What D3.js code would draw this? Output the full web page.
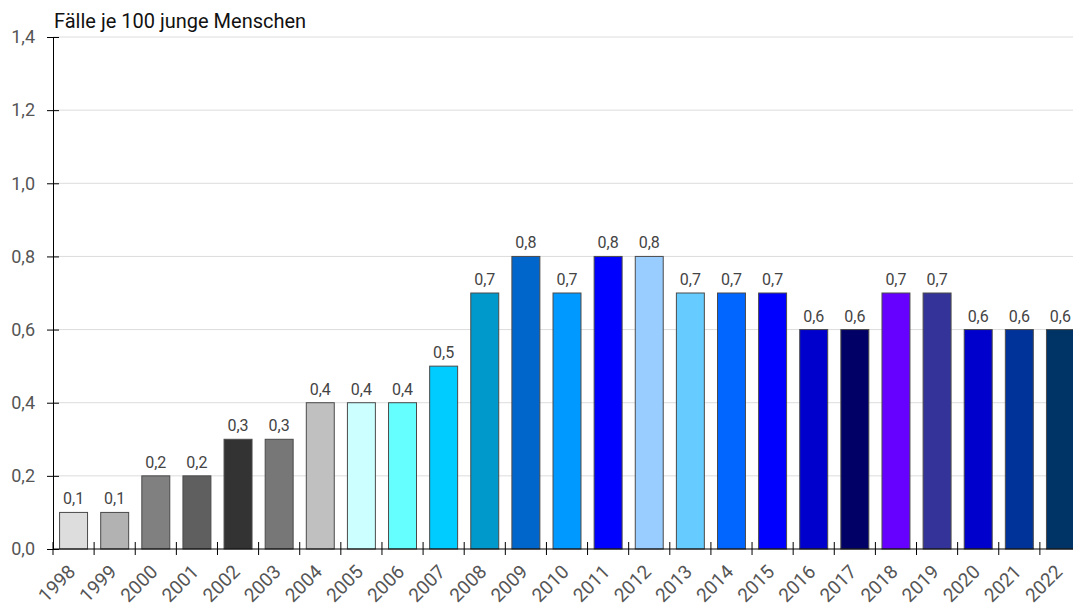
<!DOCTYPE html>
<html>
<head>
<meta charset="utf-8">
<script src="https://cdn.jsdelivr.net/npm/d3@7"></script>
<style>
  html, body { margin: 0; padding: 0; background: #fff; }
  svg { display: block; font-family: Roboto, "Noto Sans", sans-serif; }
</style>
</head>
<body>
<svg id="chart" width="1073" height="607"></svg>
<script>
// Jahre, Werte (Fälle je 100 junge Menschen) und Balkenfarben
const years = ["1998","1999","2000","2001","2002","2003","2004","2005","2006","2007","2008","2009","2010","2011","2012","2013","2014","2015","2016","2017","2018","2019","2020","2021","2022"];
const values = [0.1,0.1,0.2,0.2,0.3,0.3,0.4,0.4,0.4,0.5,0.7,0.8,0.7,0.8,0.8,0.7,0.7,0.7,0.6,0.6,0.7,0.7,0.6,0.6,0.6];
const barColors = ["#dddddd","#b2b2b2","#808080","#5f5f5f","#333333","#777777","#c0c0c0","#ccffff","#66ffff","#00ccff","#0099cc","#0066cc","#0099ff","#0000ff","#99ccff","#66ccff","#0066ff","#0000ff","#0000cc","#000066","#6600ff","#333399","#0000cc","#003399","#003366"];
const yTicks = [0, 0.2, 0.4, 0.6, 0.8, 1.0, 1.2, 1.4];
const yTitle = "Fälle je 100 junge Menschen";

const data = years.map((y, i) => ({ year: y, value: values[i], color: barColors[i] }));

const svg = d3.select("#chart");
const plotLeft = 53, plotTop = 37, plotBottom = 549, plotRightEnd = 1081;

const x = d3.scaleBand().domain(years).range([plotLeft, plotRightEnd]).paddingInner(0.32).paddingOuter(0.16);
const y = d3.scaleLinear().domain([0, 1.4]).range([plotBottom, plotTop]);
const fmt = v => d3.format(".1f")(v).replace(".", ",");

// horizontal grid
svg.append("g").selectAll("line").data(yTicks.slice(1)).join("line")
  .attr("x1", plotLeft).attr("x2", 1073)
  .attr("y1", d => y(d)).attr("y2", d => y(d))
  .attr("stroke", "#dcdcdc").attr("stroke-width", 1);

// bars
svg.append("g").selectAll("rect").data(data).join("rect")
  .attr("x", d => x(d.year))
  .attr("y", d => y(d.value))
  .attr("width", x.bandwidth())
  .attr("height", d => y(0) - y(d.value))
  .attr("fill", d => d.color)
  .attr("stroke", "#4a4a4a").attr("stroke-width", 1);

// value labels
svg.append("g").selectAll("text").data(data).join("text")
  .attr("x", d => x(d.year) + x.bandwidth() / 2)
  .attr("y", d => y(d.value) - 8)
  .attr("text-anchor", "middle")
  .attr("font-size", 16).attr("fill", "#444")
  .text(d => fmt(d.value));

// y axis
const yAxis = svg.append("g").attr("transform", `translate(${plotLeft},0)`)
  .call(d3.axisLeft(y).tickValues(yTicks).tickFormat(fmt).tickSize(6).tickPadding(12));
yAxis.select(".domain").attr("stroke", "#000");
yAxis.selectAll(".tick line").attr("x2", 6).attr("x1", -6).attr("stroke", "#000");
yAxis.selectAll(".tick text").attr("font-size", 18).attr("fill", "#555").attr("font-family", "Roboto, sans-serif");

// x axis with ticks between the bands
const xg = svg.append("g");
xg.append("line").attr("x1", plotLeft).attr("x2", 1073).attr("y1", plotBottom).attr("y2", plotBottom).attr("stroke", "#000");
const step = x.step();
const boundaries = d3.range(years.length).map(i => plotLeft + i * step);
xg.selectAll("line.tk").data(boundaries).join("line").attr("class", "tk")
  .attr("x1", d => d).attr("x2", d => d)
  .attr("y1", plotBottom - 7).attr("y2", plotBottom + 6)
  .attr("stroke", "#000");
xg.selectAll("text").data(years).join("text")
  .attr("transform", d => `translate(${x(d) + x.bandwidth() / 2 + 3},${plotBottom + 24}) rotate(-45)`)
  .attr("text-anchor", "end")
  .attr("font-size", 19).attr("fill", "#555")
  .text(d => d);

// axis title
svg.append("text").attr("x", 54).attr("y", 28)
  .attr("font-size", 20).attr("fill", "#111")
  .text(yTitle);
</script>
</body>
</html>
